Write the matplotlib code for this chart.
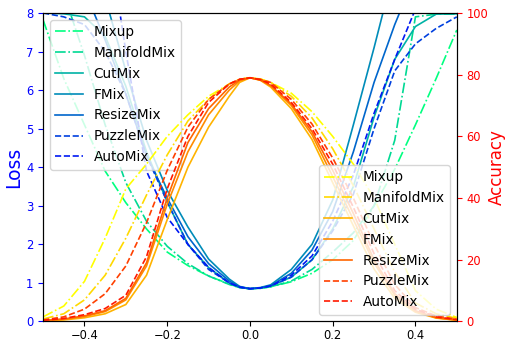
import numpy as np
import matplotlib
matplotlib.use("Agg")
import matplotlib.pyplot as plt

methods = ["Mixup", "ManifoldMix", "CutMix", "FMix", "ResizeMix", "PuzzleMix", "AutoMix"]
styles = ["-.", "-.", "-", "-", "-", "--", "--"]

x = [-0.5, -0.45, -0.4, -0.35, -0.3, -0.25, -0.2, -0.15, -0.1, -0.05, -0.025, 0.0,
     0.025, 0.05, 0.1, 0.15, 0.2, 0.25, 0.3, 0.35, 0.4, 0.45, 0.5]

# loss curves (left axis)
lossMixup = [7.82, 6.3, 5.1, 3.9, 3.08, 2.4, 1.8, 1.45, 1.18, 0.97, 0.88, 0.85,
             0.86, 0.9, 1.03, 1.25, 1.6, 2.1, 3.0, 3.95, 5.1, 6.3, 7.56]
lossManifold = [10.5, 8.5, 6.9, 5.1, 3.6, 2.6, 1.95, 1.5, 1.18, 0.96, 0.88, 0.85,
                0.86, 0.9, 1.05, 1.35, 1.8, 2.3, 3.0, 4.7, 7.9, 7.97, 7.97]
lossCutMix = [8.0, 7.98, 7.9, 7.4, 6.1, 4.4, 3.1, 2.0, 1.4, 1.0, 0.88, 0.85,
              0.87, 0.92, 1.15, 1.6, 2.4, 3.5, 5.3, 6.8, 7.65, 7.97, 7.98]
lossFMix = [14, 12, 10, 8.4, 6.5, 4.7, 3.4, 2.45, 1.62, 1.1, 0.91, 0.85,
            0.88, 0.95, 1.35, 2.0, 3.15, 5.1, 7.1, 9.2, 11, 12.5, 14]
lossResizeMix = [11, 9.8, 8.6, 7.3, 5.9, 4.3, 3.2, 2.2, 1.5, 1.05, 0.9, 0.85,
                 0.87, 0.93, 1.25, 1.85, 2.85, 4.4, 6.2, 7.7, 9.0, 10, 11]
lossPuzzleMix = [8.0, 7.9, 7.7, 7.0, 5.9, 4.3, 3.1, 2.0, 1.35, 1.0, 0.89, 0.85,
                 0.87, 0.92, 1.15, 1.6, 2.35, 3.3, 5.0, 6.5, 7.2, 7.6, 7.9]
lossAutoMix = [20, 17, 14, 10.5, 7.0, 3.9, 2.7, 2.0, 1.4, 1.0, 0.89, 0.85,
               0.87, 0.92, 1.2, 1.7, 2.6, 3.8, 5.4, 6.8, 8.1, 9.5, 11]

# accuracy curves (right axis)
accMixup = [1.5, 5, 13, 27, 43, 51, 60, 67, 73, 77, 78.5, 79,
            78.6, 77.5, 74, 68, 60, 51, 40, 25, 10, 4, 1.3]
accManifold = [0.8, 2.5, 7, 15, 27, 41, 54, 65, 72, 77, 78.5, 79,
               78.6, 77.5, 73, 66, 56, 44, 30, 16, 6, 2.5, 1]
accCutMix = [0.2, 0.5, 1.2, 2.5, 5.5, 15, 33, 50, 63, 73, 77.5, 79,
             78.2, 76, 69, 59, 45, 31, 17, 7.5, 3, 1.1, 0.4]
accFMix = [0.3, 0.7, 1.6, 3.2, 7, 18, 38, 55, 67, 75, 78, 79,
           78.3, 76.5, 70, 60.5, 47, 33, 19, 8.5, 3.2, 1.2, 0.4]
accResizeMix = [0.3, 0.8, 1.8, 3.5, 7.5, 19, 40, 58, 69, 76, 78.3, 79,
                78.3, 76.5, 70.5, 61.5, 49, 35, 20, 9, 3.5, 1.3, 0.5]
accPuzzleMix = [0.5, 1.5, 4, 9, 18, 32, 49, 63, 72, 77, 78.5, 79,
                78.5, 77.5, 72, 64, 53, 40, 25, 12, 4.5, 1.8, 0.7]
accAutoMix = [0.4, 1, 2.2, 4.2, 8.5, 21, 43, 60, 71, 77, 78.5, 79,
              78.4, 77, 71, 62.5, 51, 37, 22, 10, 4, 1.5, 0.6]

lossData = [lossMixup, lossManifold, lossCutMix, lossFMix, lossResizeMix, lossPuzzleMix, lossAutoMix]
accData = [accMixup, accManifold, accCutMix, accFMix, accResizeMix, accPuzzleMix, accAutoMix]

lossColors = plt.cm.winter(np.linspace(1.0, 0.1, 7))
accColors = plt.cm.autumn(np.linspace(1.0, 0.1, 7))

fig = plt.figure(figsize=(5.07, 3.42), dpi=100)
ax = fig.add_axes([0.085, 0.06, 0.816, 0.902])
ax2 = ax.twinx()

for i in range(len(methods)):
    ax.plot(x, lossData[i], styles[i], color=lossColors[i], lw=1.2, label=methods[i])
    ax2.plot(x, accData[i], styles[i], color=accColors[i], lw=1.2, label=methods[i])

ax.set_xlim(-0.5, 0.5)
ax.set_ylim(0, 8)
ax2.set_ylim(0, 100)
ax.set_xticks([-0.4, -0.2, 0.0, 0.2, 0.4])
ax.tick_params(axis='x', labelsize=8.3, pad=2)
ax.tick_params(axis='y', colors='blue', labelsize=8.3)
ax2.tick_params(axis='y', colors='red', labelsize=8.3)
ax.set_ylabel('Loss', color='blue', fontsize=13.5, labelpad=2)
ax2.set_ylabel('Accuracy', color='red', fontsize=12, labelpad=0)

ax.legend(loc='upper left', fontsize=9.8)
ax2.legend(loc='lower right', fontsize=9.8)

fig.savefig('out.png', dpi=100)
